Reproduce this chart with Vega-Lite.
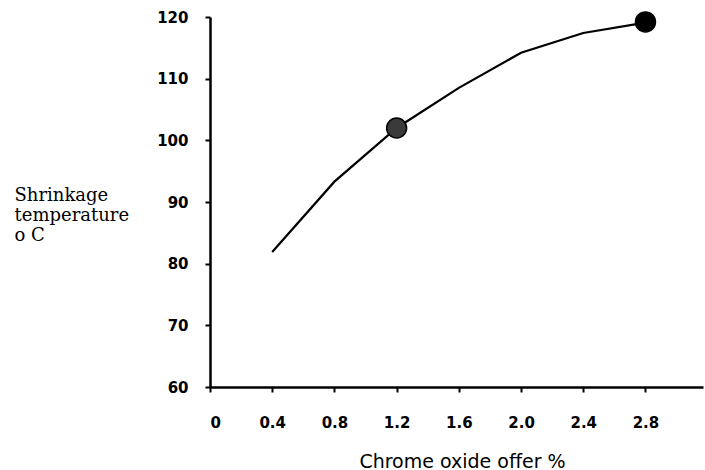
{
  "$schema": "https://vega.github.io/schema/vega-lite/v6.json",
  "width": 493,
  "height": 370,
  "autosize": {"type": "none"},
  "padding": {"left": 210, "top": 17, "right": 2, "bottom": 83},
  "background": "white",
  "config": {
    "view": {"stroke": null},
    "axis": {
      "grid": false,
      "domainColor": "black",
      "domainWidth": 2.5,
      "tickColor": "black",
      "tickWidth": 2,
      "tickSize": 5,
      "labelColor": "black",
      "titleColor": "black",
      "labelFont": "DejaVu Sans",
      "labelFontSize": 15,
      "labelFontWeight": "bold"
    }
  },
  "datasets": {
    "curve": [
      {"offer": 0.4, "temp": 81.9},
      {"offer": 0.8, "temp": 93.3},
      {"offer": 1.2, "temp": 102.0},
      {"offer": 1.6, "temp": 108.5},
      {"offer": 2.0, "temp": 114.2},
      {"offer": 2.4, "temp": 117.4},
      {"offer": 2.8, "temp": 119.1}
    ],
    "markers": [
      {"offer": 1.2, "temp": 102.0},
      {"offer": 2.8, "temp": 119.2}
    ]
  },
  "layer": [
    {
      "data": {"name": "curve"},
      "mark": {"type": "line", "color": "black", "strokeWidth": 2.2},
      "encoding": {
        "x": {
          "field": "offer",
          "type": "quantitative",
          "scale": {"domain": [0, 3.17], "nice": false, "zero": false},
          "axis": {
            "values": [0, 0.4, 0.8, 1.2, 1.6, 2.0, 2.4, 2.8],
            "labelExpr": "datum.value == 0 ? '0' : format(datum.value, '.1f')",
            "labelBaseline": "alphabetic",
            "labelPadding": 35,
            "title": "Chrome oxide offer %",
            "titleFont": "DejaVu Sans",
            "titleFontSize": 19,
            "titleFontWeight": "normal",
            "titleBaseline": "alphabetic",
            "titleX": 252,
            "titleY": 80
          }
        },
        "y": {
          "field": "temp",
          "type": "quantitative",
          "scale": {"domain": [60, 120], "nice": false, "zero": false},
          "axis": {
            "values": [60, 70, 80, 90, 100, 110, 120],
            "labelPadding": 17,
            "title": ["Shrinkage", "temperature", "o C"],
            "titleFont": "DejaVu Serif",
            "titleFontSize": 18,
            "titleFontWeight": "normal",
            "titleAngle": 0,
            "titleAlign": "left",
            "titleBaseline": "alphabetic",
            "titleLineHeight": 20,
            "titleX": -196,
            "titleY": 183
          }
        }
      }
    },
    {
      "data": {"name": "markers"},
      "mark": {"type": "point", "filled": true, "size": 400, "stroke": "black", "strokeWidth": 1.5, "opacity": 1},
      "encoding": {
        "x": {"field": "offer", "type": "quantitative"},
        "y": {"field": "temp", "type": "quantitative"},
        "fill": {
          "condition": {"test": "datum.offer < 2", "value": "#3a3a3a"},
          "value": "black"
        }
      }
    }
  ]
}
